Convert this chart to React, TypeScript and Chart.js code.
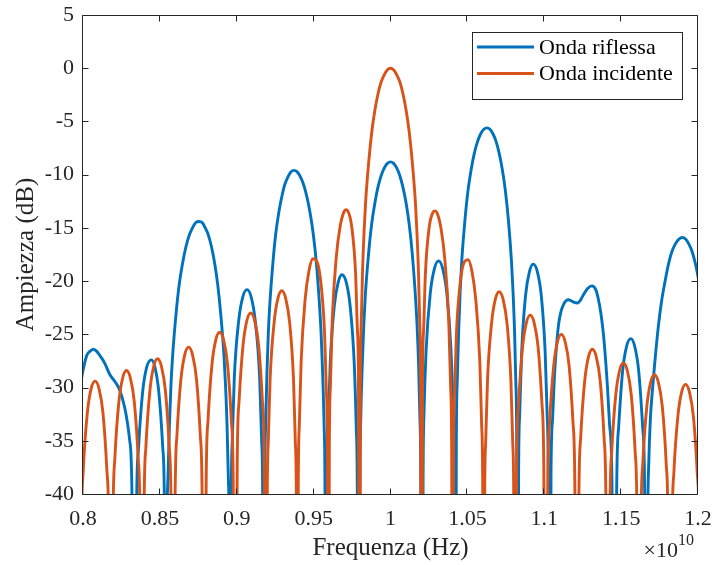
import { useEffect, useRef } from "react";
import { Chart, registerables } from "chart.js";

Chart.register(...registerables);

// ---- Data ----
const xTicks = [0.8, 0.85, 0.9, 0.95, 1, 1.05, 1.1, 1.15, 1.2];
const yTicks = [-40, -35, -30, -25, -20, -15, -10, -5, 0, 5];
const seriesNames = ["Onda riflessa", "Onda incidente"];
const seriesColors = ["#0072BD", "#D95319"];
const xTitle = "Frequenza (Hz)";
const yTitle = "Ampiezza (dB)";
const xExponentBase = "\u00d710";
const xExponent = "10";

// Onda riflessa: [frequency (x1e10 Hz), amplitude (dB)]
const riflessa: [number, number][] = [
  [0.7985, -29.6], [0.8, -28.4], [0.8024, -27.0], [0.8045, -26.6], [0.8067, -26.4], [0.809, -26.6],
  [0.8115, -27.1], [0.8141, -27.7], [0.8175, -28.8], [0.8206, -29.4], [0.8238, -30.2], [0.827, -31.8],
  [0.829, -33.4], [0.8303, -34.9], [0.8318, -39.6],
  [0.8335, -80],
  [0.8348, -41.6], [0.8361, -35.7], [0.8388, -30.4], [0.8414, -28.1], [0.8445, -27.4], [0.8468, -28.1],
  [0.8493, -30.4], [0.8519, -35.7], [0.853, -41.6],
  [0.854, -80],
  [0.8546, -44.6], [0.8553, -38.3], [0.8562, -33.6], [0.8572, -29.8], [0.8583, -27.0], [0.8605, -23.1],
  [0.8626, -20.3], [0.8648, -18.3], [0.8669, -16.8], [0.8691, -15.7], [0.8712, -15.0], [0.8734, -14.5],
  [0.8755, -14.4], [0.8775, -14.5], [0.8795, -15.0], [0.8816, -15.7], [0.8836, -16.8], [0.8856, -18.3],
  [0.8876, -20.3], [0.8896, -23.1], [0.8917, -27.0], [0.8927, -29.8], [0.8937, -33.6], [0.8945, -38.3],
  [0.8951, -44.6],
  [0.8957, -80],
  [0.8964, -41.0], [0.8971, -35.0], [0.8984, -29.1], [0.9012, -23.8], [0.9039, -21.5], [0.9067, -20.8],
  [0.9094, -21.5], [0.9121, -23.8], [0.9149, -29.1], [0.9162, -35.0], [0.9169, -41.0],
  [0.9176, -80],
  [0.9182, -39.8], [0.9188, -33.5], [0.9196, -28.8], [0.9205, -25.0], [0.9215, -22.2], [0.9235, -18.3],
  [0.9254, -15.5], [0.9274, -13.5], [0.9294, -12.0], [0.9313, -10.9], [0.9333, -10.2], [0.9352, -9.74],
  [0.9372, -9.6], [0.9393, -9.74], [0.9414, -10.2], [0.9434, -10.9], [0.9455, -12.0], [0.9476, -13.5],
  [0.9497, -15.5], [0.9518, -18.3], [0.9538, -22.2], [0.9549, -25.0], [0.9559, -28.8], [0.9568, -33.5],
  [0.9574, -39.8],
  [0.9581, -80],
  [0.9588, -39.6], [0.9595, -33.6], [0.9608, -27.7], [0.9634, -22.4], [0.966, -20.1], [0.9684, -19.4],
  [0.9712, -20.1], [0.9738, -22.4], [0.9764, -27.7], [0.9777, -33.6], [0.9784, -39.6],
  [0.9793, -80],
  [0.9801, -39.0], [0.9807, -32.7], [0.9816, -28.0], [0.9826, -24.2], [0.9836, -21.4], [0.9857, -17.5],
  [0.9877, -14.7], [0.9898, -12.7], [0.9918, -11.2], [0.9939, -10.1], [0.9959, -9.38], [0.998, -8.94],
  [1.0, -8.8], [1.002, -8.94], [1.0041, -9.38], [1.0061, -10.1], [1.0081, -11.2], [1.0102, -12.7],
  [1.0122, -14.7], [1.0142, -17.5], [1.0162, -21.4], [1.0173, -24.2], [1.0183, -28.0], [1.0191, -32.7],
  [1.0197, -39.0],
  [1.0204, -80],
  [1.0212, -38.3], [1.0218, -32.3], [1.0232, -26.4], [1.0259, -21.1], [1.0286, -18.8], [1.0313, -18.1],
  [1.0339, -18.8], [1.0366, -21.1], [1.0393, -26.4], [1.0407, -32.3], [1.0413, -38.3],
  [1.0422, -80],
  [1.0428, -35.8], [1.0434, -29.5], [1.0443, -24.8], [1.0453, -21.0], [1.0463, -18.2], [1.0484, -14.3],
  [1.0504, -11.5], [1.0525, -9.5], [1.0545, -8.0], [1.0566, -6.9], [1.0586, -6.18], [1.0607, -5.74],
  [1.0627, -5.6], [1.0647, -5.74], [1.0667, -6.18], [1.0687, -6.9], [1.0707, -8.0], [1.0727, -9.5],
  [1.0747, -11.5], [1.0767, -14.3], [1.0787, -18.2], [1.0797, -21.0], [1.0807, -24.8], [1.0815, -29.5],
  [1.0821, -35.8],
  [1.0827, -80],
  [1.0833, -38.6], [1.084, -32.6], [1.0853, -26.7], [1.0878, -21.4], [1.0904, -19.1], [1.0928, -18.4],
  [1.0955, -19.1], [1.0981, -21.4], [1.1006, -26.7], [1.1019, -32.6], [1.1026, -38.6],
  [1.1034, -80],
  [1.1044, -38.0], [1.1054, -33.0], [1.1065, -29.3], [1.1076, -26.8], [1.1092, -24.2], [1.1108, -22.9],
  [1.1125, -22.2], [1.1142, -21.85], [1.1158, -21.75], [1.1175, -21.85], [1.1195, -22.0], [1.1215, -22.05],
  [1.1235, -21.8], [1.1258, -21.2], [1.1282, -20.7], [1.131, -20.45], [1.1335, -20.8], [1.1352, -21.7],
  [1.1368, -23.0], [1.1385, -25.0], [1.14, -27.6], [1.1411, -29.9], [1.1425, -33.5], [1.144, -38.5],
  [1.1458, -80],
  [1.1471, -39.6], [1.1484, -33.7], [1.151, -28.4], [1.1536, -26.1], [1.1563, -25.4], [1.1588, -26.1],
  [1.1614, -28.4], [1.164, -33.7], [1.1653, -39.6],
  [1.1666, -80],
  [1.1672, -45.0], [1.168, -37.0], [1.169, -33.0], [1.1705, -30.0], [1.1718, -27.8], [1.1741, -24.4],
  [1.1763, -21.9], [1.1786, -20.0], [1.1808, -18.4], [1.1831, -17.2], [1.1853, -16.5], [1.1876, -16.05],
  [1.1898, -15.9], [1.1919, -16.04], [1.194, -16.5], [1.1961, -17.2], [1.1982, -18.3], [1.2003, -19.8],
  [1.2024, -21.8],
];

// Onda incidente: [frequency (x1e10 Hz), amplitude (dB)]
const incidente: [number, number][] = [
  [0.7977, -80],
  [0.799, -43.6], [0.8002, -37.7], [0.8028, -32.4], [0.8053, -30.1], [0.8079, -29.4], [0.8104, -30.1],
  [0.813, -32.4], [0.8155, -37.7], [0.8168, -43.6],
  [0.8182, -80],
  [0.8195, -42.6], [0.8207, -36.7], [0.8233, -31.4], [0.8258, -29.1], [0.8283, -28.4], [0.8308, -29.1],
  [0.8334, -31.4], [0.8359, -36.7], [0.8371, -42.6],
  [0.8384, -80],
  [0.8397, -41.5], [0.8409, -35.6], [0.8435, -30.3], [0.846, -28.0], [0.8485, -27.3], [0.851, -28.0],
  [0.8536, -30.3], [0.8561, -35.6], [0.8573, -41.5],
  [0.8586, -80],
  [0.8599, -40.4], [0.8611, -34.5], [0.8637, -29.2], [0.8662, -26.9], [0.8687, -26.2], [0.8712, -26.9],
  [0.8738, -29.2], [0.8763, -34.5], [0.8775, -40.4],
  [0.8788, -80],
  [0.8801, -39.0], [0.8813, -33.1], [0.8839, -27.8], [0.8864, -25.5], [0.8889, -24.8], [0.8914, -25.5],
  [0.894, -27.8], [0.8965, -33.1], [0.8977, -39.0],
  [0.899, -80],
  [0.9003, -37.2], [0.9015, -31.3], [0.9041, -26.0], [0.9066, -23.7], [0.9091, -23.0], [0.9116, -23.7],
  [0.9142, -26.0], [0.9167, -31.3], [0.9179, -37.2],
  [0.9192, -80],
  [0.9198, -41.1], [0.9205, -35.1], [0.9217, -29.2], [0.9243, -23.9], [0.9268, -21.6], [0.9293, -20.9],
  [0.9318, -21.6], [0.9344, -23.9], [0.9369, -29.2], [0.9381, -35.1], [0.9388, -41.1],
  [0.9394, -80],
  [0.94, -39.5], [0.9407, -33.5], [0.9419, -27.5], [0.9445, -21.7], [0.947, -19.0], [0.9495, -17.9],
  [0.952, -18.1], [0.9546, -20.0], [0.9571, -24.8], [0.9583, -30.4], [0.959, -36.3],
  [0.9596, -80],
  [0.9602, -36.0], [0.9609, -29.9], [0.9621, -23.7], [0.9647, -17.8], [0.9672, -14.9], [0.9697, -13.5],
  [0.9711, -13.3], [0.9722, -13.4], [0.9748, -14.9], [0.9773, -19.3], [0.9785, -24.7], [0.9792, -30.4],
  [0.9798, -80],
  [0.9804, -30.2], [0.981, -23.9], [0.9818, -19.2], [0.9828, -15.4], [0.9838, -12.6], [0.9859, -8.7],
  [0.9879, -5.9], [0.9899, -3.9], [0.9919, -2.4], [0.9939, -1.3], [0.996, -0.6], [0.998, -0.14],
  [1.0, 0], [1.002, -0.14], [1.004, -0.6], [1.0061, -1.3], [1.0081, -2.4], [1.0101, -3.9],
  [1.0121, -5.9], [1.0141, -8.7], [1.0162, -12.6], [1.0172, -15.4], [1.0182, -19.2], [1.019, -23.9],
  [1.0196, -30.2],
  [1.0202, -80],
  [1.0208, -30.4], [1.0215, -24.7], [1.0227, -19.3], [1.0252, -14.9], [1.0278, -13.5], [1.0289, -13.4],
  [1.0303, -13.6], [1.0328, -15.0], [1.0353, -17.9], [1.0379, -23.8], [1.0391, -30.0], [1.0398, -36.1],
  [1.0404, -80],
  [1.041, -36.4], [1.0417, -30.5], [1.0429, -24.9], [1.0454, -20.1], [1.048, -18.2], [1.0505, -18.0],
  [1.053, -19.1], [1.0555, -21.8], [1.0581, -27.6], [1.0593, -33.6], [1.06, -39.6],
  [1.0606, -80],
  [1.0612, -41.2], [1.0619, -35.2], [1.0631, -29.3], [1.0657, -24.0], [1.0682, -21.7], [1.0707, -21.0],
  [1.0732, -21.7], [1.0758, -24.0], [1.0783, -29.3], [1.0795, -35.2], [1.0802, -41.2],
  [1.0808, -80],
  [1.0821, -37.4], [1.0833, -31.5], [1.0859, -26.2], [1.0884, -23.9], [1.0909, -23.2], [1.0934, -23.9],
  [1.096, -26.2], [1.0985, -31.5], [1.0997, -37.4],
  [1.101, -80],
  [1.1023, -39.2], [1.1035, -33.3], [1.1061, -28.0], [1.1086, -25.7], [1.1111, -25.0], [1.1136, -25.7],
  [1.1162, -28.0], [1.1187, -33.3], [1.1199, -39.2],
  [1.1212, -80],
  [1.1225, -40.6], [1.1237, -34.7], [1.1263, -29.4], [1.1288, -27.1], [1.1313, -26.4], [1.1338, -27.1],
  [1.1364, -29.4], [1.1389, -34.7], [1.1401, -40.6],
  [1.1414, -80],
  [1.1427, -41.9], [1.1439, -36.0], [1.1465, -30.7], [1.149, -28.4], [1.1515, -27.7], [1.154, -28.4],
  [1.1566, -30.7], [1.1591, -36.0], [1.1603, -41.9],
  [1.1616, -80],
  [1.1629, -43.0], [1.1641, -37.1], [1.1667, -31.8], [1.1692, -29.5], [1.1717, -28.8], [1.1742, -29.5],
  [1.1768, -31.8], [1.1793, -37.1], [1.1805, -43.0],
  [1.1818, -80],
  [1.1831, -43.9], [1.1843, -38.0], [1.1869, -32.7], [1.1894, -30.4], [1.1919, -29.7], [1.1944, -30.4],
  [1.197, -32.7], [1.1995, -38.0], [1.2008, -43.9],
  [1.2022, -80],
];

const FONT = '"Liberation Serif", "Times New Roman", Times, serif';
const AXIS_COLOR = "#262626";
const LINE_WIDTH = 2.9;

const zeroPadding = (s: any) => {
  s.paddingLeft = 0;
  s.paddingRight = 0;
  s.paddingTop = 0;
  s.paddingBottom = 0;
};

export default function App() {
  const ref = useRef<HTMLCanvasElement | null>(null);

  useEffect(() => {
    const canvas = ref.current;
    if (!canvas) return;

    const decor = {
      id: "matlabDecor",
      afterDraw(chart: any) {
        const { ctx, chartArea } = chart;
        const { left, right, top, bottom } = chartArea;
        const xs = chart.scales.x;
        const ys = chart.scales.y;
        ctx.save();
        // box
        ctx.strokeStyle = AXIS_COLOR;
        ctx.lineWidth = 1;
        const L = Math.round(left) - 0.5;
        const R = Math.round(right) - 0.5;
        const T = Math.round(top) + 0.5;
        const B = Math.round(bottom) + 0.5;
        ctx.beginPath();
        ctx.rect(L, T, R - L, B - T);
        // inward ticks on all four sides
        const tl = 6;
        for (const v of xTicks) {
          const px = Math.round(xs.getPixelForValue(v)) - 0.5;
          ctx.moveTo(px, B);
          ctx.lineTo(px, B - tl);
          ctx.moveTo(px, T);
          ctx.lineTo(px, T + tl);
        }
        for (const v of yTicks) {
          const py = Math.round(ys.getPixelForValue(v)) + 0.5;
          ctx.moveTo(L, py);
          ctx.lineTo(L + tl, py);
          ctx.moveTo(R, py);
          ctx.lineTo(R - tl, py);
        }
        ctx.stroke();

        // x exponent label
        ctx.fillStyle = AXIS_COLOR;
        ctx.font = `22px ${FONT}`;
        ctx.textAlign = "right";
        ctx.textBaseline = "alphabetic";
        const ex = right - 20;
        ctx.fillText(xExponentBase, ex, bottom + 63);
        ctx.font = `16px ${FONT}`;
        ctx.textAlign = "left";
        ctx.fillText(xExponent, ex, bottom + 51);

        // legend box
        const bw = 210;
        const bh = 67;
        const bx = Math.round(right) - 16 - bw;
        const by = Math.round(top) + 17;
        ctx.fillStyle = "#ffffff";
        ctx.fillRect(bx, by, bw, bh);
        ctx.strokeStyle = AXIS_COLOR;
        ctx.lineWidth = 1;
        ctx.strokeRect(bx + 0.5, by + 0.5, bw, bh);
        ctx.font = `22px ${FONT}`;
        ctx.textBaseline = "middle";
        ctx.textAlign = "left";
        seriesNames.forEach((name, i) => {
          const yy = by + 15 + i * 26.5;
          ctx.strokeStyle = seriesColors[i];
          ctx.lineWidth = LINE_WIDTH;
          ctx.beginPath();
          ctx.moveTo(bx + 5, yy);
          ctx.lineTo(bx + 62, yy);
          ctx.stroke();
          ctx.fillStyle = "#000000";
          ctx.fillText(name, bx + 67, yy + 1);
        });
        ctx.restore();
      },
    };

    const chart = new Chart(canvas, {
      type: "line",
      data: {
        datasets: [
          {
            label: seriesNames[0],
            data: riflessa.map(([x, y]) => ({ x, y })),
            borderColor: seriesColors[0],
            backgroundColor: seriesColors[0],
            borderWidth: LINE_WIDTH,
            pointRadius: 0,
            fill: false,
            cubicInterpolationMode: "monotone",
            order: 1,
            clip: 0,
          } as any,
          {
            label: seriesNames[1],
            data: incidente.map(([x, y]) => ({ x, y })),
            borderColor: seriesColors[1],
            backgroundColor: seriesColors[1],
            borderWidth: LINE_WIDTH,
            pointRadius: 0,
            fill: false,
            cubicInterpolationMode: "monotone",
            order: 0,
            clip: 0,
          } as any,
        ],
      },
      options: {
        responsive: false,
        animation: false,
        devicePixelRatio: 1,
        events: [],
        layout: { padding: { left: 0, right: 15, top: 15, bottom: 0 } },
        plugins: { legend: { display: false }, tooltip: { enabled: false } },
        scales: {
          x: {
            type: "linear",
            min: 0.8,
            max: 1.2,
            afterBuildTicks: (s: any) => {
              s.ticks = xTicks.map((v) => ({ value: v }));
            },
            afterFit: (s: any) => {
              s.height = 71;
              zeroPadding(s);
            },
            grid: { display: false, drawTicks: false },
            border: { display: false },
            ticks: {
              font: { family: FONT, size: 22 },
              color: AXIS_COLOR,
              padding: 12,
              maxRotation: 0,
              autoSkip: false,
              callback: (v: any) => String(v),
            },
            title: {
              display: true,
              text: xTitle,
              font: { family: FONT, size: 25 },
              color: AXIS_COLOR,
              padding: { top: 0, bottom: 2 },
            },
          },
          y: {
            type: "linear",
            min: -40,
            max: 5,
            afterBuildTicks: (s: any) => {
              s.ticks = yTicks.map((v) => ({ value: v }));
            },
            afterFit: (s: any) => {
              s.width = 83;
              zeroPadding(s);
            },
            grid: { display: false, drawTicks: false },
            border: { display: false },
            ticks: {
              font: { family: FONT, size: 22 },
              color: AXIS_COLOR,
              padding: 9,
              autoSkip: false,
              callback: (v: any) => String(v),
            },
            title: {
              display: true,
              text: yTitle,
              font: { family: FONT, size: 25 },
              color: AXIS_COLOR,
              padding: { top: 11, bottom: 0 },
            },
          },
        },
      } as any,
      plugins: [decor],
    });

    return () => chart.destroy();
  }, []);

  return (
    <div style={{ position: "absolute", left: 0, top: 0, width: 713, height: 565, background: "#ffffff" }}>
      <canvas ref={ref} width={713} height={565} style={{ display: "block", width: 713, height: 565 }} />
    </div>
  );
}
